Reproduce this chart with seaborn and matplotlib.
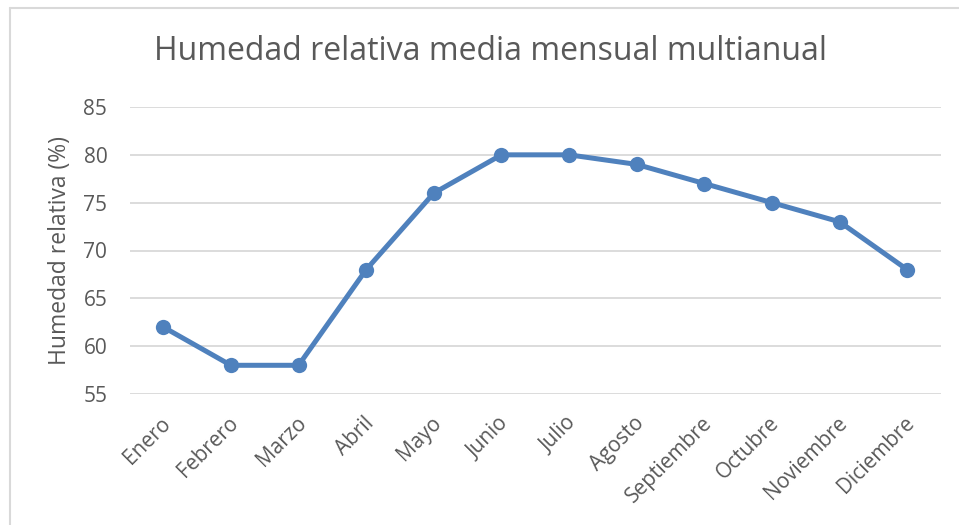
import matplotlib
matplotlib.use("Agg")
import matplotlib.pyplot as plt
import matplotlib.transforms as mtransforms
from matplotlib.lines import Line2D
import seaborn as sns
import pandas as pd

meses = ["Enero", "Febrero", "Marzo", "Abril", "Mayo", "Junio", "Julio",
         "Agosto", "Septiembre", "Octubre", "Noviembre", "Diciembre"]
humedad = [62, 58, 58, 68, 76, 80, 80, 79, 77, 75, 73, 68]
y_ticks = [55, 60, 65, 70, 75, 80, 85]

df = pd.DataFrame({"mes": meses, "humedad": humedad})

sns.set_theme(style="white")
plt.rcParams["font.family"] = ["Open Sans", "DejaVu Sans"]

text_color = "#595959"
line_color = "#4F81BD"

fig = plt.figure(figsize=(9.59, 5.25), dpi=100)
ax = fig.add_axes([129.5 / 959, 1 - 394 / 525, (941 - 129.5) / 959, (394 - 107) / 525])

sns.lineplot(data=df, x="mes", y="humedad", ax=ax, sort=False,
             color=line_color, linewidth=3.6, marker="o", markersize=11,
             markeredgewidth=0)

ax.set_xlim(-0.5, len(meses) - 0.5)
ax.set_ylim(55, 85)
ax.set_yticks(y_ticks)
ax.yaxis.grid(True, color="#D9D9D9", linewidth=1.3)
ax.set_axisbelow(True)
for s in ax.spines.values():
    s.set_visible(False)

ax.tick_params(axis="both", length=0, colors=text_color, labelsize=15)
ax.tick_params(axis="x", pad=10)
ax.tick_params(axis="y", pad=16)
shift = mtransforms.ScaledTranslation(-3 / 100, -5 / 100, fig.dpi_scale_trans)
for lbl in ax.get_xticklabels():
    lbl.set_rotation(45)
    lbl.set_ha("right")
    lbl.set_rotation_mode("anchor")
    lbl.set_transform(lbl.get_transform() + shift)

ax.set_xlabel("")
ax.set_ylabel("Humedad relativa (%)", fontsize=16.5, color=text_color, labelpad=8)

fig.text(490 / 959, 1 - 52 / 525, "Humedad relativa media mensual multianual",
         ha="center", va="center", fontsize=23, color=text_color)

# chart frame
frame_kw = dict(color="#D9D9D9", linewidth=1.5, transform=fig.transFigure)
fig.add_artist(Line2D([9.5 / 959, 9.5 / 959], [0, 1 - 7.5 / 525], **frame_kw))
fig.add_artist(Line2D([9.5 / 959, 1], [1 - 7.5 / 525, 1 - 7.5 / 525], **frame_kw))

fig.savefig("out.png", dpi=100, facecolor="white")
